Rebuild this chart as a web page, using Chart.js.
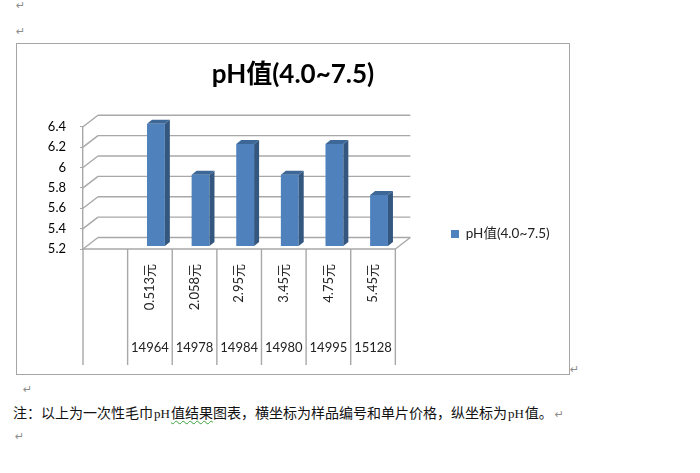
<!DOCTYPE html>
<html lang="zh">
<head>
    <meta charset="UTF-8">
    <title>pH值(4.0~7.5)</title>
    <script src="https://cdn.jsdelivr.net/npm/chart.js"></script>
    <style>
        html, body {
            margin: 0;
            padding: 0;
            width: 700px;
            height: 473px;
            background: #fff;
            overflow: hidden;
            font-family: "Noto Sans CJK SC", sans-serif;
        }

        #frame {
            position: absolute;
            left: 16px;
            top: 43px;
            width: 552px;
            height: 330px;
            border: 1px solid #a6a6a6;
        }

        #chartCanvas {
            position: absolute;
            left: 0;
            top: 0;
        }

        .mark {
            position: absolute;
            color: #8c8c8c;
            font: 11px "DejaVu Sans", sans-serif;
            line-height: 12px;
        }

        #note {
            position: absolute;
            left: 13px;
            top: 402px;
            font-size: 14px;
            line-height: 20px;
            color: #111;
            white-space: nowrap;
        }

        #note .latin {
            font-family: "Liberation Serif", serif;
            font-size: 13px;
            padding: 0 1px;
        }

        #note .squiggle {
            text-decoration: underline wavy #3aa03a 1px;
            text-underline-offset: 2px;
        }
    </style>
</head>
<body>

    <span class="mark" style="left:16px;top:0px">↵</span>
    <span class="mark" style="left:16px;top:26px">↵</span>

    <div id="frame">
        <canvas id="chartCanvas" width="552" height="330"></canvas>
    </div>
    <span class="mark" style="left:570px;top:364px">↵</span>

    <span class="mark" style="left:23px;top:384px">↵</span>
    <div id="note">注&#xFF1A;以上为一次性毛巾<span class="latin">pH</span><span class="squiggle">值结果</span>图表&#xFF0C;横坐标为样品编号和单片价格&#xFF0C;纵坐标为<span class="latin">pH</span>值。<span class="mark" style="position:static;margin-left:2px">↵</span></div>
    <span class="mark" style="left:15px;top:431px">↵</span>

    <script>
        const seriesName = 'pH值(4.0~7.5)';
        const prices = ['', '0.513元', '2.058元', '2.95元', '3.45元', '4.75元', '5.45元'];
        const sampleIds = ['', '14964', '14978', '14984', '14980', '14995', '15128'];
        const phValues = [null, 6.4, 5.9, 6.2, 5.9, 6.2, 5.7];

        const barColor = '#4f81bd';
        const sideColor = '#34577f';
        const topColor = '#3d6797';
        const wallColor = '#a8a8a8';
        const fontFamily = 'Lato, "Noto Sans CJK SC", sans-serif';

        // fake 3D: back wall offset from the front plane, and bar shift/depth
        const wallDx = 15;
        const wallDy = -11.5;
        const barDx = 6;
        const barDy = -3;
        const depthX = 5;
        const depthY = -4;

        function line(ctx, x1, y1, x2, y2) {
            ctx.beginPath();
            ctx.moveTo(x1, y1);
            ctx.lineTo(x2, y2);
            ctx.stroke();
        }

        const wallPlugin = {
            id: 'wall',
            afterLayout(chart) {
                // title spans the whole frame, legend sits low on the right
                chart.titleBlock.left = 0;
                chart.titleBlock.right = chart.width;
                const legend = chart.legend;
                legend.left = 424;
                legend.right = 552;
                legend.top = 180;
                legend.bottom = 200;
            },
            beforeDatasetsDraw(chart) {
                const { ctx, chartArea, scales } = chart;
                const { left, right, bottom } = chartArea;
                const y = scales.y;
                ctx.save();
                ctx.strokeStyle = wallColor;
                ctx.lineWidth = 1.4;
                y.ticks.forEach(t => {
                    const py = y.getPixelForValue(t.value);
                    line(ctx, left, py, left + wallDx, py + wallDy);
                    line(ctx, left + wallDx, py + wallDy, right + wallDx, py + wallDy);
                });
                line(ctx, right, bottom, right + wallDx, bottom + wallDy);
                line(ctx, left, bottom, right, bottom);

                // separators of the category table below the floor
                const x = scales.x;
                const step = (x.right - x.left) / prices.length;
                for (let i = 0; i <= prices.length; i++) {
                    const px = x.left + i * step;
                    line(ctx, px, bottom, px, 321);
                }
                ctx.restore();

                ctx.save();
                ctx.translate(barDx, barDy);
            },
            afterDatasetsDraw(chart) {
                const { ctx, chartArea } = chart;
                chart.getDatasetMeta(0).data.forEach((bar, i) => {
                    if (phValues[i] === null) return;
                    const r = bar.x + bar.width / 2;
                    const l = bar.x - bar.width / 2;
                    const base = Math.min(bar.base, chartArea.bottom);
                    ctx.fillStyle = sideColor;
                    ctx.beginPath();
                    ctx.moveTo(r, bar.y);
                    ctx.lineTo(r + depthX, bar.y + depthY);
                    ctx.lineTo(r + depthX, base + depthY);
                    ctx.lineTo(r, base);
                    ctx.closePath();
                    ctx.fill();
                    ctx.fillStyle = topColor;
                    ctx.beginPath();
                    ctx.moveTo(l, bar.y);
                    ctx.lineTo(l + depthX, bar.y + depthY);
                    ctx.lineTo(r + depthX, bar.y + depthY);
                    ctx.lineTo(r, bar.y);
                    ctx.closePath();
                    ctx.fill();
                });
                ctx.restore();
            }
        };

        new Chart(document.getElementById('chartCanvas').getContext('2d'), {
            type: 'bar',
            data: {
                labels: prices,
                datasets: [{
                    label: seriesName,
                    data: phValues,
                    backgroundColor: barColor,
                    barPercentage: 0.4,
                    categoryPercentage: 1
                }]
            },
            plugins: [wallPlugin],
            options: {
                responsive: false,
                animation: false,
                layout: { padding: { left: 0, right: 55, top: 0, bottom: 15 } },
                plugins: {
                    title: {
                        display: true,
                        text: seriesName,
                        color: '#000',
                        font: { family: fontFamily, size: 26, weight: 'bold' },
                        padding: { top: 15, bottom: 36.5 }
                    },
                    legend: {
                        position: 'right',
                        labels: {
                            color: '#222',
                            boxWidth: 8,
                            boxHeight: 8,
                            font: { family: fontFamily, size: 13.5 }
                        }
                    },
                    tooltip: { enabled: false }
                },
                scales: {
                    y: {
                        min: 5.2,
                        max: 6.4,
                        afterFit(scale) { scale.width = 66; },
                        ticks: {
                            stepSize: 0.2,
                            color: '#000',
                            padding: 14,
                            font: { family: fontFamily, size: 13 },
                            callback: value => String(Number(value.toFixed(1)))
                        },
                        border: { color: wallColor, width: 1.4 },
                        grid: { drawOnChartArea: false, color: wallColor, tickLength: 3 }
                    },
                    x: {
                        weight: 0,
                        afterFit(scale) { scale.height = 81; },
                        ticks: {
                            autoSkip: false,
                            minRotation: 90,
                            maxRotation: 90,
                            padding: 7,
                            color: '#222',
                            font: { family: fontFamily, size: 13 }
                        },
                        border: { display: false },
                        grid: { display: false }
                    },
                    x2: {
                        type: 'category',
                        position: 'bottom',
                        weight: 1,
                        labels: sampleIds,
                        offset: true,
                        afterFit(scale) { scale.height = 29; },
                        ticks: {
                            autoSkip: false,
                            maxRotation: 0,
                            padding: 2,
                            color: '#222',
                            font: { family: fontFamily, size: 13 }
                        },
                        border: { display: false },
                        grid: { display: false }
                    }
                }
            }
        });
    </script>

</body>
</html>
